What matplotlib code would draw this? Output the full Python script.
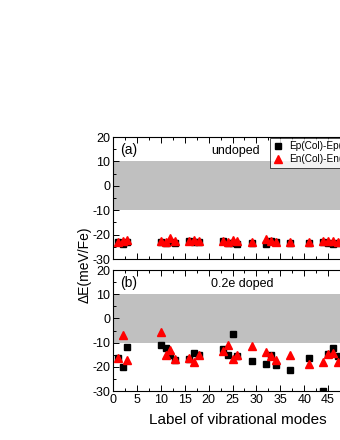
import numpy as np
import matplotlib.pyplot as plt
from matplotlib.ticker import MultipleLocator

plt.rcParams["font.family"] = ["Liberation Sans", "DejaVu Sans"]
plt.rcParams["axes.unicode_minus"] = False

# mode labels (same set in both panels)
modes = [1, 2, 3, 10, 11, 12, 13, 16, 17, 18, 23, 24, 25, 26, 29,
         32, 33, 34, 37, 41, 44, 45, 46, 47]

# (a) undoped
ep_undoped = [-23.2, -24.0, -23.0, -22.9, -23.6, -23.0, -23.5, -22.8,
              -23.2, -23.0, -22.5, -23.6, -23.4, -23.8, -23.5, -24.0,
              -22.8, -23.2, -23.5, -23.5, -23.0, -23.5, -24.0, -23.5]
en_undoped = [-23.2, -22.8, -22.3, -22.6, -22.9, -21.5, -22.7, -22.5,
              -22.3, -22.8, -22.7, -22.9, -22.4, -22.8, -23.0, -21.9,
              -22.5, -23.0, -23.0, -23.0, -22.6, -22.8, -22.5, -22.9]

# (b) 0.2e doped
ep_doped = [-16.5, -20.0, -12.0, -11.1, -12.2, -15.3, -17.3, -16.6,
            -14.3, -15.3, -12.5, -15.0, -6.6, -15.7, -17.5, -19.0,
            -15.0, -19.1, -21.2, -16.5, -29.8, -14.8, -12.2, -15.7]
en_doped = [-16.4, -6.7, -17.2, -5.6, -15.3, -13.2, -16.7, -16.2,
            -18.0, -15.0, -13.5, -10.8, -16.7, -15.0, -11.5, -13.9,
            -15.5, -17.3, -15.3, -18.9, -18.0, -14.6, -14.3, -18.0]

x_ticks = [0, 5, 10, 15, 20, 25, 30, 35, 40, 45]

W, H = 340, 440
fig = plt.figure(figsize=(W / 100, H / 100), dpi=100)

left = 113 / W
width = 239 / W
ax_a = fig.add_axes([left, 1 - 259 / H, width, 122 / H])
ax_b = fig.add_axes([left, 1 - 391 / H, width, 121 / H])


def style_axis(ax, show_x):
    ax.axhspan(-10, 10, color="#c0c0c0", lw=0, zorder=0)
    ax.set_xlim(0, 50)
    ax.set_ylim(-30, 20)
    ax.set_xticks(x_ticks)
    ax.xaxis.set_minor_locator(MultipleLocator(2.5))
    ax.yaxis.set_major_locator(MultipleLocator(10))
    ax.yaxis.set_minor_locator(MultipleLocator(5))
    ax.tick_params(which="both", direction="in", top=True, right=True,
                   labelsize=9, width=0.7, pad=2)
    ax.tick_params(which="major", length=4)
    ax.tick_params(which="minor", length=2)
    for s in ax.spines.values():
        s.set_linewidth(0.8)
    if not show_x:
        ax.tick_params(labelbottom=False)


style_axis(ax_a, False)
style_axis(ax_b, True)

ax_a.plot(modes, ep_undoped, "s", color="black", ms=5, ls="none",
          label="Ep(Col)-Ep(NM)", zorder=3)
ax_a.plot(modes, en_undoped, "^", color="red", ms=6, ls="none",
          label="En(Col)-En(NM)", zorder=4)
ax_b.plot(modes, ep_doped, "s", color="black", ms=5, ls="none", zorder=3)
ax_b.plot(modes, en_doped, "^", color="red", ms=6, ls="none", zorder=4)

ax_a.text(0.03, 0.86, "(a)", transform=ax_a.transAxes, fontsize=10)
ax_a.text(0.41, 0.86, "undoped", transform=ax_a.transAxes, fontsize=9)
ax_b.text(0.03, 0.86, "(b)", transform=ax_b.transAxes, fontsize=10)
ax_b.text(0.41, 0.86, "0.2e doped", transform=ax_b.transAxes, fontsize=9)

leg = ax_a.legend(loc="upper left", bbox_to_anchor=(0.655, 0.995),
                  fontsize=7.2, frameon=True, fancybox=False, borderpad=0.35,
                  handlelength=1.0, handletextpad=0.6, labelspacing=0.3,
                  borderaxespad=0)
leg.get_frame().set_edgecolor("black")
leg.get_frame().set_linewidth(0.6)

fig.text(85 / W, 1 - 265 / H, "\u0394E(meV/Fe)", rotation=90,
         ha="center", va="center", fontsize=10)
fig.text(238 / W, 1 - 420 / H, "Label of vibrational modes",
         ha="center", va="center", fontsize=11)

fig.savefig("out.png", dpi=100)
